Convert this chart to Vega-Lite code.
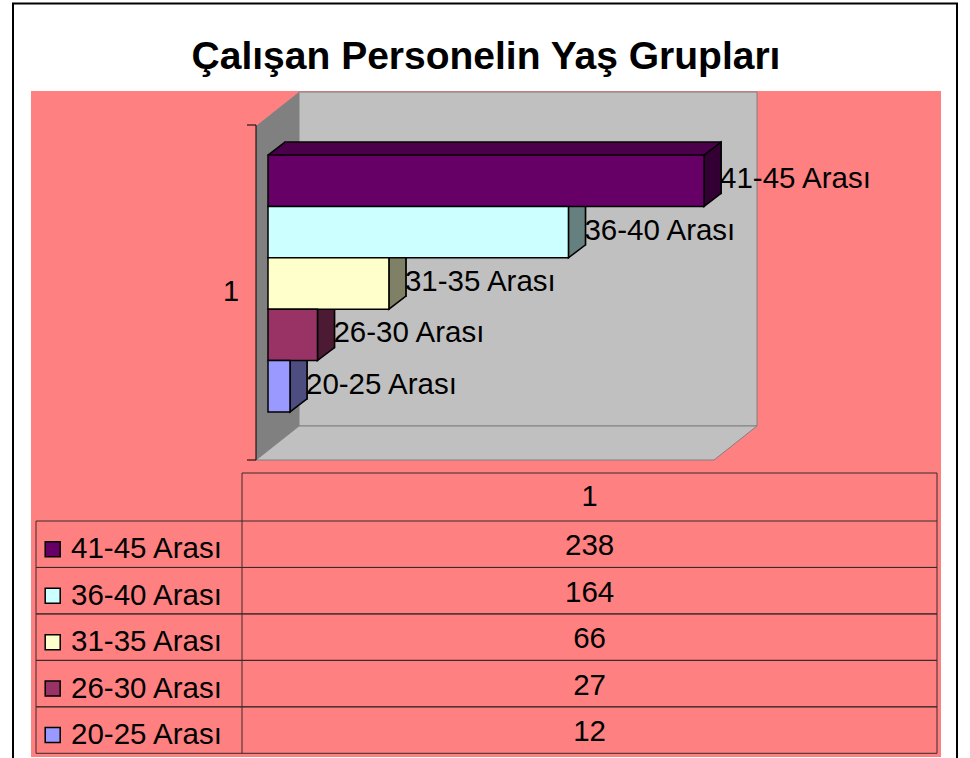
{
  "$schema": "https://vega.github.io/schema/vega-lite/v6.json",
  "autosize": "none",
  "width": 910,
  "height": 666,
  "padding": {"left": 31, "top": 91, "right": 29, "bottom": 1},
  "background": "white",
  "title": {
    "text": "Çalışan Personelin Yaş Grupları",
    "font": "Liberation Sans",
    "fontSize": 39,
    "fontWeight": "bold",
    "color": "#000000",
    "anchor": "middle",
    "frame": "group",
    "baseline": "alphabetic",
    "offset": -105.5
  },
  "data": {
    "values": [
      {"group": "41-45 Arası", "value": 238},
      {"group": "36-40 Arası", "value": 164},
      {"group": "31-35 Arası", "value": 66},
      {"group": "26-30 Arası", "value": 27},
      {"group": "20-25 Arası", "value": 12}
    ]
  },
  "config": {
    "view": {"stroke": null, "fill": "#FF8080"},
    "text": {"font": "Liberation Sans"}
  },
  "resolve": {"scale": {"x": "independent", "y": "independent", "fill": "independent"}},
  "layer": [
    {
      "resolve": {"scale": {"fill": "independent"}},
      "layer": [
        {
          "data": {"values": [{}]},
          "mark": {"type": "rect", "fill": "#C0C0C0", "stroke": "#808080", "strokeWidth": 1, "xOffset": 43, "x2Offset": 43},
          "encoding": {
            "x": {"datum": 0, "type": "quantitative", "scale": {"domain": [0, 250], "range": [225, 683], "nice": false, "zero": false}, "axis": null},
            "x2": {"datum": 250},
            "y": {"value": 1},
            "y2": {"value": 335}
          }
        },
        {
          "data": {"values": [{}]},
          "mark": {"type": "point", "shape": "M0,0L43,-34L43,300L0,334Z", "size": 4, "filled": true, "opacity": 1, "fill": "#808080", "strokeWidth": 0},
          "encoding": {
            "x": {"datum": 0, "type": "quantitative", "scale": {"domain": [0, 250], "range": [225, 683], "nice": false, "zero": false}, "axis": null},
            "y": {"value": 35}
          }
        },
        {
          "data": {"values": [{}]},
          "mark": {"type": "point", "shape": "M0,0L458,0L501,-34L43,-34Z", "size": 4, "filled": true, "opacity": 1, "fill": "#C0C0C0", "stroke": "#808080", "strokeWidth": 1},
          "encoding": {
            "x": {"datum": 0, "type": "quantitative", "scale": {"domain": [0, 250], "range": [225, 683], "nice": false, "zero": false}, "axis": null},
            "y": {"value": 369}
          }
        },
        {
          "data": {"values": [{}]},
          "mark": {"type": "rule", "stroke": "#000000", "strokeWidth": 1},
          "encoding": {
            "x": {"datum": 0, "type": "quantitative", "scale": {"domain": [0, 250], "range": [225, 683], "nice": false, "zero": false}, "axis": null},
            "y": {"value": 34},
            "y2": {"value": 369}
          }
        },
        {
          "data": {"values": [{}]},
          "mark": {"type": "rule", "stroke": "#000000", "strokeWidth": 1, "xOffset": -9},
          "encoding": {
            "x": {"datum": 0, "type": "quantitative", "scale": {"domain": [0, 250], "range": [225, 683], "nice": false, "zero": false}, "axis": null},
            "x2": {"datum": 0},
            "y": {"value": 34}
          }
        },
        {
          "data": {"values": [{}]},
          "mark": {"type": "rule", "stroke": "#000000", "strokeWidth": 1, "xOffset": -9},
          "encoding": {
            "x": {"datum": 0, "type": "quantitative", "scale": {"domain": [0, 250], "range": [225, 683], "nice": false, "zero": false}, "axis": null},
            "x2": {"datum": 0},
            "y": {"value": 369}
          }
        },
        {
          "data": {"values": [{}]},
          "mark": {"type": "text", "text": "1", "fontSize": 29, "align": "center", "baseline": "middle", "color": "#000000", "xOffset": -25},
          "encoding": {
            "x": {"datum": 0, "type": "quantitative", "scale": {"domain": [0, 250], "range": [225, 683], "nice": false, "zero": false}, "axis": null},
            "y": {"value": 201}
          }
        },
        {
          "mark": {"type": "rect", "stroke": "#000000", "strokeWidth": 1.5, "xOffset": 29, "x2Offset": 29, "yOffset": -22.5, "y2Offset": -22.5},
          "encoding": {
            "y": {"field": "group", "type": "nominal", "sort": null, "axis": null, "scale": {"domain": ["41-45 Arası", "36-40 Arası", "31-35 Arası", "26-30 Arası", "20-25 Arası"], "range": [35, 369], "paddingInner": 0, "paddingOuter": 0.75}},
            "x": {"field": "value", "type": "quantitative", "axis": null, "scale": {"domain": [0, 250], "range": [225, 683], "nice": false, "zero": false}},
            "x2": {"datum": 0},
            "fill": {"field": "group", "type": "nominal", "legend": null, "scale": {"domain": ["41-45 Arası", "36-40 Arası", "31-35 Arası", "26-30 Arası", "20-25 Arası"], "range": ["#4C004C", "#99BFBF", "#BFBF99", "#732640", "#7373BF"]}}
          }
        },
        {
          "mark": {"type": "point", "shape": "M0,-25.7L17,-38.7L18.6,-38.7L18.6,-25.7Z", "size": 4, "filled": true, "opacity": 1, "strokeWidth": 0, "xOffset": 12, "yOffset": -9.5},
          "encoding": {
            "y": {"field": "group", "type": "nominal", "sort": null, "axis": null, "scale": {"domain": ["41-45 Arası", "36-40 Arası", "31-35 Arası", "26-30 Arası", "20-25 Arası"], "range": [35, 369], "paddingInner": 0, "paddingOuter": 0.75}},
            "x": {"datum": 0, "type": "quantitative", "axis": null, "scale": {"domain": [0, 250], "range": [225, 683], "nice": false, "zero": false}},
            "fill": {"field": "group", "type": "nominal", "legend": null, "scale": {"domain": ["41-45 Arası", "36-40 Arası", "31-35 Arası", "26-30 Arası", "20-25 Arası"], "range": ["#4C004C", "#99BFBF", "#BFBF99", "#732640", "#7373BF"]}}
          }
        },
        {
          "mark": {"type": "point", "shape": "M0,-25.7L17,-38.7", "size": 4, "filled": false, "opacity": 1, "stroke": "#000000", "strokeWidth": 1.5, "xOffset": 12, "yOffset": -9.5},
          "encoding": {
            "y": {"field": "group", "type": "nominal", "sort": null, "axis": null, "scale": {"domain": ["41-45 Arası", "36-40 Arası", "31-35 Arası", "26-30 Arası", "20-25 Arası"], "range": [35, 369], "paddingInner": 0, "paddingOuter": 0.75}},
            "x": {"datum": 0, "type": "quantitative", "axis": null, "scale": {"domain": [0, 250], "range": [225, 683], "nice": false, "zero": false}}
          }
        },
        {
          "mark": {"type": "point", "shape": "M0,-25.7L17,-38.7L17,12.7L0,25.7Z", "size": 4, "filled": true, "opacity": 1, "stroke": "#000000", "strokeWidth": 1.5, "xOffset": 12, "yOffset": -9.5},
          "encoding": {
            "y": {"field": "group", "type": "nominal", "sort": null, "axis": null, "scale": {"domain": ["41-45 Arası", "36-40 Arası", "31-35 Arası", "26-30 Arası", "20-25 Arası"], "range": [35, 369], "paddingInner": 0, "paddingOuter": 0.75}},
            "x": {"field": "value", "type": "quantitative", "axis": null, "scale": {"domain": [0, 250], "range": [225, 683], "nice": false, "zero": false}},
            "fill": {"field": "group", "type": "nominal", "legend": null, "scale": {"domain": ["41-45 Arası", "36-40 Arası", "31-35 Arası", "26-30 Arası", "20-25 Arası"], "range": ["#330033", "#668080", "#808066", "#4D1A33", "#4D4D80"]}}
          }
        },
        {
          "mark": {"type": "rect", "stroke": "#000000", "strokeWidth": 1.5, "xOffset": 12, "x2Offset": 12, "yOffset": -9.5, "y2Offset": -9.5},
          "encoding": {
            "y": {"field": "group", "type": "nominal", "sort": null, "axis": null, "scale": {"domain": ["41-45 Arası", "36-40 Arası", "31-35 Arası", "26-30 Arası", "20-25 Arası"], "range": [35, 369], "paddingInner": 0, "paddingOuter": 0.75}},
            "x": {"field": "value", "type": "quantitative", "axis": null, "scale": {"domain": [0, 250], "range": [225, 683], "nice": false, "zero": false}},
            "x2": {"datum": 0},
            "fill": {"field": "group", "type": "nominal", "legend": null, "scale": {"domain": ["41-45 Arası", "36-40 Arası", "31-35 Arası", "26-30 Arası", "20-25 Arası"], "range": ["#660066", "#CCFFFF", "#FFFFCC", "#993366", "#9999FF"]}}
          }
        },
        {
          "mark": {"type": "text", "fontSize": 29.5, "align": "left", "baseline": "middle", "color": "#000000", "dx": 28, "dy": -11},
          "encoding": {
            "y": {"field": "group", "type": "nominal", "sort": null, "axis": null, "scale": {"domain": ["41-45 Arası", "36-40 Arası", "31-35 Arası", "26-30 Arası", "20-25 Arası"], "range": [35, 369], "paddingInner": 0, "paddingOuter": 0.75}},
            "x": {"field": "value", "type": "quantitative", "axis": null, "scale": {"domain": [0, 250], "range": [225, 683], "nice": false, "zero": false}},
            "text": {"field": "group", "type": "nominal"}
          }
        }
      ]
    },
    {
      "resolve": {"scale": {"fill": "independent"}},
      "layer": [
        {
          "mark": {"type": "rule", "stroke": "#3a2a2a", "strokeWidth": 1},
          "encoding": {
            "y": {"field": "group", "type": "nominal", "sort": null, "axis": null, "bandPosition": 0, "scale": {"domain": ["41-45 Arası", "36-40 Arası", "31-35 Arası", "26-30 Arası", "20-25 Arası"], "range": [430, 662.3], "paddingInner": 0, "paddingOuter": 0}},
            "x": {"value": 5},
            "x2": {"value": 906}
          }
        },
        {
          "mark": {"type": "rule", "stroke": "#3a2a2a", "strokeWidth": 1},
          "encoding": {
            "y": {"field": "group", "type": "nominal", "sort": null, "axis": null, "bandPosition": 1, "scale": {"domain": ["41-45 Arası", "36-40 Arası", "31-35 Arası", "26-30 Arası", "20-25 Arası"], "range": [430, 662.3], "paddingInner": 0, "paddingOuter": 0}},
            "x": {"value": 5},
            "x2": {"value": 906}
          }
        },
        {
          "data": {"values": [{}]},
          "mark": {"type": "rule", "stroke": "#3a2a2a", "strokeWidth": 1},
          "encoding": {"x": {"value": 211}, "x2": {"value": 906}, "y": {"value": 382}}
        },
        {
          "data": {"values": [{}]},
          "mark": {"type": "rule", "stroke": "#3a2a2a", "strokeWidth": 1},
          "encoding": {"x": {"value": 5}, "y": {"value": 430}, "y2": {"value": 662.3}}
        },
        {
          "data": {"values": [{}]},
          "mark": {"type": "rule", "stroke": "#3a2a2a", "strokeWidth": 1},
          "encoding": {"x": {"value": 211}, "y": {"value": 382}, "y2": {"value": 662.3}}
        },
        {
          "data": {"values": [{}]},
          "mark": {"type": "rule", "stroke": "#3a2a2a", "strokeWidth": 1},
          "encoding": {"x": {"value": 906}, "y": {"value": 382}, "y2": {"value": 662.3}}
        },
        {
          "data": {"values": [{}]},
          "mark": {"type": "text", "text": "1", "fontSize": 29, "align": "center", "baseline": "middle", "color": "#000000"},
          "encoding": {"x": {"value": 558.6}, "y": {"value": 406}}
        },
        {
          "mark": {"type": "point", "shape": "square", "size": 225, "filled": true, "opacity": 1, "stroke": "#000000", "strokeWidth": 1.5, "yOffset": 5},
          "encoding": {
            "y": {"field": "group", "type": "nominal", "sort": null, "axis": null, "scale": {"domain": ["41-45 Arası", "36-40 Arası", "31-35 Arası", "26-30 Arası", "20-25 Arası"], "range": [430, 662.3], "paddingInner": 0, "paddingOuter": 0}},
            "x": {"value": 21.7},
            "fill": {"field": "group", "type": "nominal", "legend": null, "scale": {"domain": ["41-45 Arası", "36-40 Arası", "31-35 Arası", "26-30 Arası", "20-25 Arası"], "range": ["#660066", "#CCFFFF", "#FFFFCC", "#993366", "#9999FF"]}}
          }
        },
        {
          "mark": {"type": "text", "fontSize": 29.5, "align": "left", "baseline": "middle", "color": "#000000", "dy": 5},
          "encoding": {
            "y": {"field": "group", "type": "nominal", "sort": null, "axis": null, "scale": {"domain": ["41-45 Arası", "36-40 Arası", "31-35 Arası", "26-30 Arası", "20-25 Arası"], "range": [430, 662.3], "paddingInner": 0, "paddingOuter": 0}},
            "x": {"value": 40},
            "text": {"field": "group", "type": "nominal"}
          }
        },
        {
          "mark": {"type": "text", "fontSize": 29.5, "align": "center", "baseline": "middle", "color": "#000000", "dy": 2},
          "encoding": {
            "y": {"field": "group", "type": "nominal", "sort": null, "axis": null, "scale": {"domain": ["41-45 Arası", "36-40 Arası", "31-35 Arası", "26-30 Arası", "20-25 Arası"], "range": [430, 662.3], "paddingInner": 0, "paddingOuter": 0}},
            "x": {"value": 558.6},
            "text": {"field": "value", "type": "quantitative"}
          }
        }
      ]
    },
    {
      "data": {"values": [{}]},
      "mark": {"type": "rule", "stroke": "#000000", "strokeWidth": 2},
      "encoding": {"x": {"value": -18}, "y": {"value": -87.4}, "y2": {"value": 680}}
    },
    {
      "data": {"values": [{}]},
      "mark": {"type": "rule", "stroke": "#000000", "strokeWidth": 2},
      "encoding": {"x": {"value": 926}, "y": {"value": -87.4}, "y2": {"value": 680}}
    },
    {
      "data": {"values": [{}]},
      "mark": {"type": "rule", "stroke": "#000000", "strokeWidth": 2},
      "encoding": {"x": {"value": -19}, "x2": {"value": 927}, "y": {"value": -87.4}}
    }
  ]
}
